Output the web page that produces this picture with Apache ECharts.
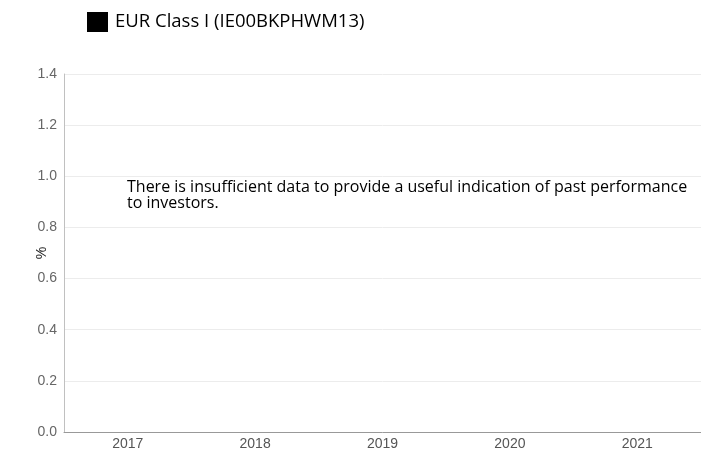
<!DOCTYPE html>
<html>
<head>
<meta charset="utf-8">
<script src="https://cdn.jsdelivr.net/npm/echarts@6/dist/echarts.min.js"></script>
<style>
    html, body { margin: 0; padding: 0; background: #fff; }
    #chart { width: 701px; height: 453px; }
</style>
</head>
<body>
<div id="chart"></div>
<script>
    // chart data
    var seriesName = 'EUR Class I (IE00BKPHWM13)';
    var years = ['2017', '2018', '2019', '2020', '2021'];
    var classReturns = [];   // no performance data published
    var noDataText = 'There is insufficient data to provide a useful indication of past performance\nto investors.';

    var myChart = echarts.init(document.getElementById('chart'));
    var option = {
        animation: false,
        legend: {
            data: [seriesName],
            left: 82,
            top: 7,
            icon: 'rect',
            itemWidth: 21,
            itemHeight: 20,
            itemGap: 8,
            textStyle: {
                color: '#000',
                fontFamily: 'Open Sans',
                fontSize: 18.5,
                padding: [0, 0, 0, 2]
            }
        },
        // plot runs a little past the right edge, like the original
        grid: {
            left: 64,
            width: 645,
            top: 74,
            bottom: 21
        },
        xAxis: {
            type: 'category',
            data: years,
            axisTick: { show: false },
            axisLine: { lineStyle: { color: '#999', width: 1 } },
            axisLabel: {
                color: '#555',
                fontFamily: 'Liberation Sans',
                fontSize: 14,
                margin: 5
            }
        },
        yAxis: {
            type: 'value',
            min: 0,
            max: 1.4,
            interval: 0.2,
            name: '%',
            nameLocation: 'middle',
            nameRotate: 90,
            nameGap: 15,
            nameMoveOverlap: false,
            nameTextStyle: {
                color: '#222',
                fontFamily: 'Liberation Sans',
                fontSize: 14
            },
            axisLine: { show: true, lineStyle: { color: '#c0c0c0' } },
            axisTick: { show: false },
            splitLine: { lineStyle: { color: '#ececec' } },
            axisLabel: {
                color: '#666',
                fontFamily: 'Liberation Sans',
                fontSize: 14,
                margin: 7,
                formatter: function (v) { return v.toFixed(1); }
            }
        },
        series: [{
            name: seriesName,
            type: 'bar',
            itemStyle: { color: '#000' },
            data: classReturns
        }],
        graphic: [{
            type: 'text',
            left: 127,
            top: 179,
            style: {
                text: noDataText,
                fill: '#000',
                font: '16px "Open Sans"',
                lineHeight: 16
            }
        }]
    };
    myChart.setOption(option, true);
</script>
</body>
</html>
